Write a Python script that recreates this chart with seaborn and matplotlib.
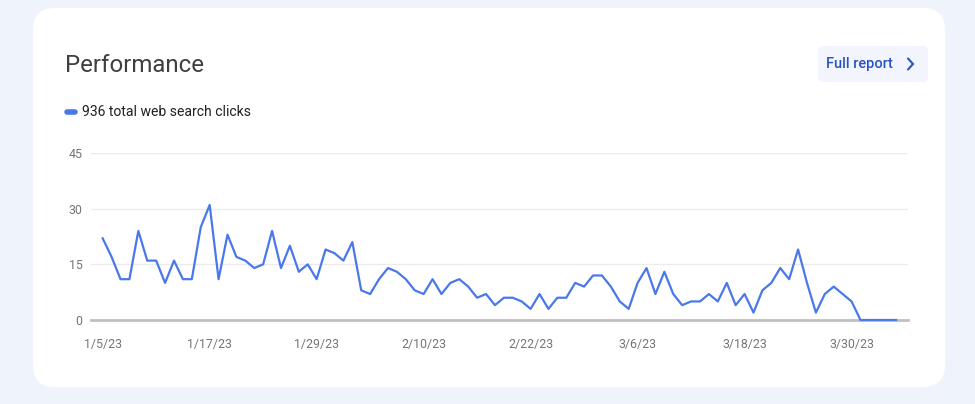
import matplotlib
matplotlib.use("Agg")
import matplotlib.pyplot as plt
from matplotlib.patches import FancyBboxPatch
import seaborn as sns
import pandas as pd

# ---- data ----
start_date = "2023-01-05"
clicks = [22, 17, 11, 11, 24, 16, 16, 10, 16, 11, 11, 25, 31, 11, 23, 17, 16, 14, 15, 24,
          14, 20, 13, 15, 11, 19, 18, 16, 21, 8, 7,
          11, 14, 13, 11, 8, 7, 11, 7, 10, 11, 9, 6, 7, 4, 6, 6, 5, 3, 7, 3, 6, 6, 10, 9,
          12, 12, 9, 5, 3, 10, 14,
          7, 13, 7, 4, 5, 5, 7, 5, 10, 4, 7, 2, 8, 10, 14, 11, 19, 10, 2, 7, 9, 7, 5,
          0, 0, 0, 0, 0]
tick_dates = ["2023-01-05", "2023-01-17", "2023-01-29", "2023-02-10",
              "2023-02-22", "2023-03-06", "2023-03-18", "2023-03-30"]
tick_labels = ["1/5/23", "1/17/23", "1/29/23", "2/10/23",
               "2/22/23", "3/6/23", "3/18/23", "3/30/23"]
y_ticks = [0, 15, 30, 45]
title = "Performance"
legend_label = "936 total web search clicks"
button_label = "Full report"

df = pd.DataFrame({"date": pd.date_range(start_date, periods=len(clicks), freq="D"),
                   "clicks": clicks})

W, H = 975, 404
fig = plt.figure(figsize=(W / 100, H / 100), dpi=100)
fig.patch.set_facecolor("#eff3fb")

# background / card axes in pixel coordinates
bg = fig.add_axes([0, 0, 1, 1])
bg.set_xlim(0, W)
bg.set_ylim(H, 0)
bg.axis("off")
bg.add_patch(FancyBboxPatch((33, 8), 912, 379, boxstyle="round,pad=0,rounding_size=22",
                            facecolor="white", edgecolor="none"))
bg.text(65, 65, title, fontsize=17.3, family="Roboto", color="#3c4043", va="center", ha="left")
bg.plot([67, 75], [112, 112], color="#4a78eb", lw=4, solid_capstyle="round")
bg.text(82, 112, legend_label, fontsize=10.1, family="Roboto", color="#202124", va="center", ha="left")
bg.add_patch(FancyBboxPatch((818, 46), 110, 36, boxstyle="round,pad=0,rounding_size=5",
                            facecolor="#f2f5fd", edgecolor="none"))
bg.text(826, 64, button_label, fontsize=10.5, family="Roboto", color="#2853c4",
        va="center", ha="left", fontweight="medium")
bg.plot([908, 913, 908], [58.5, 64, 69.5], color="#2853c4", lw=1.5, solid_capstyle="round",
        solid_joinstyle="miter")

# chart axes
left, right, top, bottom = 91, 908, 153, 320
ax = fig.add_axes([left / W, 1 - bottom / H, (right - left) / W, (bottom - top) / H])
ax.set_facecolor("none")
sns.lineplot(data=df, x="date", y="clicks", ax=ax, color="#4a78eb", lw=1.6, zorder=5)
for l in ax.lines:
    l.set_clip_on(False)

d0 = df["date"].iloc[0]
d1 = df["date"].iloc[-1]
ax.set_xlim(d0 - pd.Timedelta(days=1.31), d1 + pd.Timedelta(days=1.33))
ax.set_ylim(0, 45)
ax.set_yticks(y_ticks)
ax.set_yticklabels([str(v) for v in y_ticks])
ax.set_xticks(pd.to_datetime(tick_dates))
ax.set_xticklabels(tick_labels)
ax.tick_params(axis="both", length=0, labelsize=8.9, colors="#757575")
ax.tick_params(axis="y", pad=6)
ax.tick_params(axis="x", pad=13)
for lab in ax.get_xticklabels() + ax.get_yticklabels():
    lab.set_family("Roboto")
for v in y_ticks[1:]:
    ax.axhline(v, color="#ebebeb", lw=1, zorder=1)
ax.axhline(0, color="#c0c0c0", lw=2, zorder=2, clip_on=False)
for s in ax.spines.values():
    s.set_visible(False)
ax.set_xlabel("")
ax.set_ylabel("")

fig.savefig("out.png", dpi=100, facecolor=fig.get_facecolor())
